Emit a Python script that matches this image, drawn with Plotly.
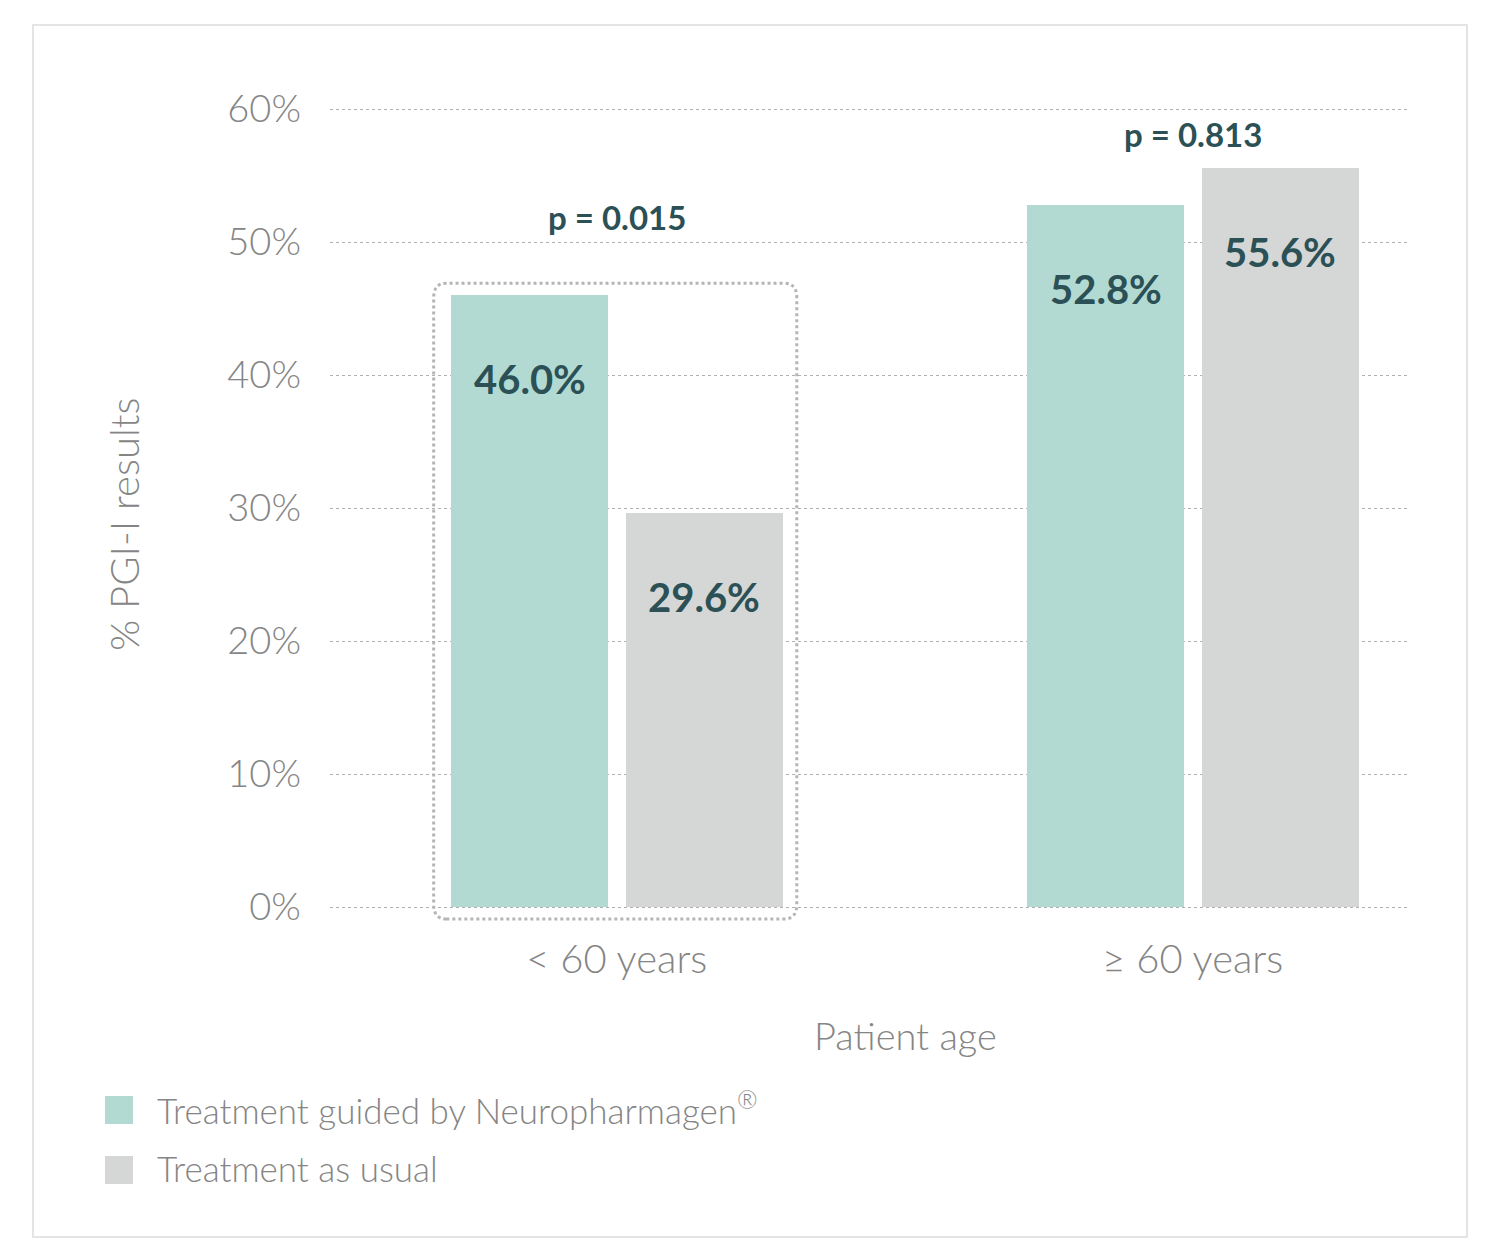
import plotly.graph_objects as go

categories = ["< 60 years", "≥ 60 years"]
series_names = ["Treatment guided by Neuropharmagen®", "Treatment as usual"]
guided = [46.0, 52.8]
usual = [29.6, 55.6]
p_values = ["p = 0.015", "p = 0.813"]
y_ticks = [0, 10, 20, 30, 40, 50, 60]
y_tick_labels = ["0%", "10%", "20%", "30%", "40%", "50%", "60%"]
x_title = "Patient age"
y_title = "% PGI-I results"

GREEN = "#b2dad3"
GREY = "#d5d7d6"
DARK = "#2b5055"
TXT = "#858585"
FONT = "Lato"

xpos = list(range(len(categories)))
offsets = [-0.288, 0.0156]
width = 0.273
Y_RANGE = [-0.15, 60.15]

fig = go.Figure()
colors = [GREEN, GREY]
for k, (name, vals) in enumerate(zip(series_names, [guided, usual])):
    fig.add_trace(go.Bar(
        x=xpos, y=vals, name=name, marker=dict(color=colors[k], line=dict(width=0)),
        offset=offsets[k], width=width, showlegend=False, hoverinfo="y",
    ))
    for i, v in enumerate(vals):
        fig.add_annotation(
            x=xpos[i] + offsets[k] + width / 2, y=v, xref="x", yref="y",
            text=f"{v:.1f}%", showarrow=False, yanchor="middle", yshift=-84,
            font=dict(family=FONT, size=40, color=DARK, weight=700),
        )

p_shift = [78, 34]
for i, p in enumerate(p_values):
    fig.add_annotation(
        x=xpos[i], y=max(guided[i], usual[i]), xref="x", yref="y",
        text=p, showarrow=False, yanchor="middle", yshift=p_shift[i],
        font=dict(family=FONT, size=33, color=DARK, weight=700),
    )

def yp(v):
    return (v - Y_RANGE[0]) / (Y_RANGE[1] - Y_RANGE[0])

# dotted rounded box around first group (x in data, y in paper so it is not clipped)
x0, x1 = -0.318, 0.3125
y0, y1 = yp(-0.9), yp(guided[0] + 0.9)
rx, ry = 0.022, 0.018
path = (f"M{x0+rx},{y0} L{x1-rx},{y0} Q{x1},{y0} {x1},{y0+ry} L{x1},{y1-ry} "
        f"Q{x1},{y1} {x1-rx},{y1} L{x0+rx},{y1} Q{x0},{y1} {x0},{y1-ry} "
        f"L{x0},{y0+ry} Q{x0},{y0} {x0+rx},{y0} Z")
fig.add_shape(type="path", path=path, xref="x", yref="paper",
              line=dict(color="#b5b5b5", width=3, dash="dot"), layer="above")

# outer border
L, R, T, B = 330, 93, 107, 332
PW, PH = 1500 - L - R, 1241 - T - B
def px(x):
    return (x - L) / PW
def py(y):
    return (1241 - B - y) / PH
fig.add_shape(type="rect", xref="paper", yref="paper",
              x0=px(33), x1=px(1467), y0=py(1237), y1=py(25),
              line=dict(color="#e4e4e4", width=2), fillcolor="rgba(0,0,0,0)")

# axis titles
fig.add_annotation(xref="paper", yref="paper", x=px(905), y=py(1035),
                   text=x_title, showarrow=False, xanchor="center", yanchor="middle",
                   font=dict(family=FONT, size=38, color=TXT, weight=300))
fig.add_annotation(xref="paper", yref="paper", x=px(124), y=py(525),
                   text=y_title, showarrow=False, textangle=-90, xanchor="center", yanchor="middle",
                   font=dict(family=FONT, size=40, color=TXT, weight=300))

# legend drawn manually
leg_y = [1110, 1170]
for k, name in enumerate(series_names):
    fig.add_shape(type="rect", xref="paper", yref="paper",
                  x0=px(105), x1=px(133), y0=py(leg_y[k] + 14), y1=py(leg_y[k] - 14),
                  fillcolor=colors[k], line=dict(width=0))
    fig.add_annotation(xref="paper", yref="paper", x=px(155), y=py(leg_y[k] - 2),
                       text=name.replace("®", "<sup>®</sup>"), showarrow=False,
                       xanchor="left", yanchor="middle",
                       font=dict(family=FONT, size=35, color=TXT, weight=300))

fig.update_layout(
    width=1500, height=1241,
    margin=dict(l=L, r=R, t=T, b=B, autoexpand=False),
    paper_bgcolor="white", plot_bgcolor="white",
    bargap=0, showlegend=False,
    xaxis=dict(range=[-0.498, 1.372], tickvals=xpos, ticktext=categories,
               showgrid=False, zeroline=False, showline=False, ticks="",
               tickfont=dict(family=FONT, size=40, color=TXT, weight=300),
               ticklabelstandoff=23, fixedrange=True),
    yaxis=dict(range=Y_RANGE, tickvals=y_ticks, ticktext=y_tick_labels,
               showgrid=True, gridcolor="#b0b0b0", gridwidth=1, griddash="dot",
               zeroline=False, showline=False, ticks="",
               tickfont=dict(family=FONT, size=38, color=TXT, weight=300),
               ticklabelstandoff=28, fixedrange=True),
)

fig.write_html("out.html", config={"displayModeBar": False},
               post_script="document.body.style.margin='0';")
